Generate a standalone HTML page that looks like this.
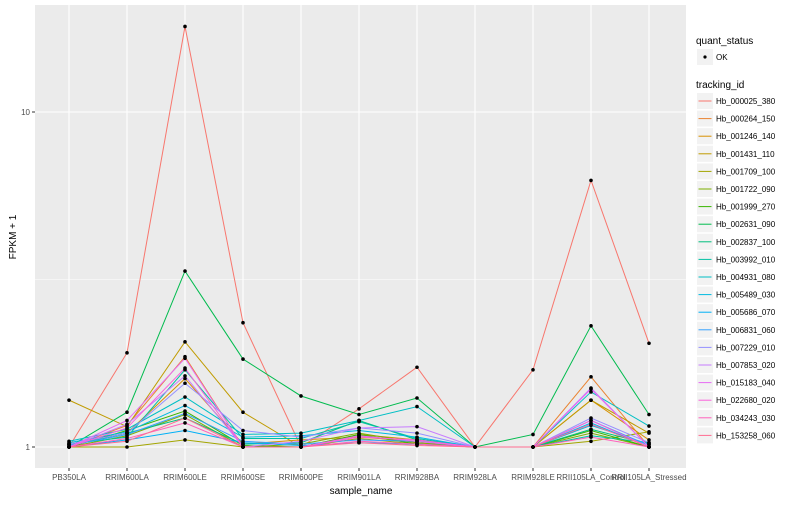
<!DOCTYPE html>
<html><head><meta charset="utf-8"><style>
body{margin:0;background:#fff;font-family:"Liberation Sans",sans-serif}
svg text{font-family:"Liberation Sans",sans-serif}
</style></head><body>
<svg id="c" width="800" height="500"></svg>
<script>
const categories=["PB350LA","RRIM600LA","RRIM600LE","RRIM600SE","RRIM600PE","RRIM901LA","RRIM928BA","RRIM928LA","RRIM928LE","RRII105LA_Control","RRII105LA_Stressed"];
const seriesNames=["Hb_000025_380","Hb_000264_150","Hb_001246_140","Hb_001431_110","Hb_001709_100","Hb_001722_090","Hb_001999_270","Hb_002631_090","Hb_002837_100","Hb_003992_010","Hb_004931_080","Hb_005489_030","Hb_005686_070","Hb_006831_060","Hb_007229_010","Hb_007853_020","Hb_015183_040","Hb_022680_020","Hb_034243_030","Hb_153258_060"];
const seriesColors=["#F8766D","#EA8331","#D89000","#C09B00","#A3A500","#7CAE00","#39B600","#00BB4E","#00BF7D","#00C1A3","#00BFC4","#00BAE0","#00B0F6","#35A2FF","#9590FF","#C77CFF","#E76BF3","#FA62DB","#FF62BC","#FF6C91"];
const s0=[1.0,1.91,18.0,2.35,1.0,1.3,1.73,1.0,1.70,6.25,2.04];
const s1=[1.0,1.16,1.86,1.0,1.0,1.08,1.03,1.0,1.0,1.62,1.0];
const s2=[1.02,1.10,1.60,1.02,1.05,1.07,1.04,1.0,1.0,1.38,1.05];
const s3=[1.38,1.15,2.06,1.27,1.0,1.09,1.05,1.0,1.0,1.38,1.10];
const s4=[1.0,1.0,1.05,1.0,1.0,1.06,1.02,1.0,1.0,1.04,1.11];
const s5=[1.0,1.08,1.25,1.0,1.02,1.10,1.03,1.0,1.0,1.10,1.0];
const s6=[1.0,1.12,1.28,1.01,1.0,1.09,1.02,1.0,1.0,1.12,1.0];
const s7=[1.0,1.27,3.35,1.83,1.42,1.25,1.40,1.0,1.09,2.30,1.25];
const s8=[1.01,1.10,1.22,1.02,1.03,1.20,1.05,1.0,1.0,1.13,1.02];
const s9=[1.02,1.07,1.70,1.06,1.06,1.19,1.06,1.0,1.0,1.08,1.03];
const s10=[1.04,1.13,1.41,1.09,1.10,1.20,1.32,1.0,1.0,1.46,1.155];
const s11=[1.03,1.11,1.33,1.07,1.08,1.12,1.07,1.0,1.0,1.16,1.02];
const s12=[1.0,1.05,1.12,1.03,1.01,1.03,1.02,1.0,1.0,1.18,1.0];
const s13=[1.01,1.09,1.26,1.04,1.02,1.05,1.04,1.0,1.0,1.20,1.01];
const s14=[1.02,1.10,1.55,1.12,1.07,1.14,1.10,1.0,1.0,1.22,1.03];
const s15=[1.0,1.17,1.63,1.0,1.04,1.14,1.15,1.0,1.0,1.50,1.0];
const s16=[1.0,1.20,1.84,1.0,1.0,1.08,1.04,1.0,1.0,1.49,1.0];
const s17=[1.0,1.14,1.72,1.0,1.0,1.07,1.05,1.0,1.0,1.20,1.0];
const s18=[1.0,1.06,1.18,1.0,1.0,1.04,1.02,1.0,1.0,1.07,1.0];
const s19=[1.0,1.04,1.22,1.0,1.0,1.03,1.01,1.0,1.0,1.17,1.0];
const seriesValues=[s0,s1,s2,s3,s4,s5,s6,s7,s8,s9,s10,s11,s12,s13,s14,s15,s16,s17,s18,s19];
const yTickValues=[1,10];
const yTickLabels=["1","10"];

const NS="http://www.w3.org/2000/svg";
const svg=document.getElementById('c');
const P={l:35,r:686,t:5,b:468};
function xS(i){return 69+i*58;}
function yS(v){return 447-335*Math.log10(v);}
function mk(tag,attrs,parent){const e=document.createElementNS(NS,tag);for(const k in attrs)e.setAttribute(k,attrs[k]);(parent||svg).appendChild(e);return e;}

const panel=mk('rect',{x:P.l,y:P.t,width:P.r-P.l,height:P.b-P.t,fill:'#EBEBEB'});


const mg=mk('line',{x1:P.l,x2:P.r,y1:(yS(1)+yS(10))/2,y2:(yS(1)+yS(10))/2,stroke:'#fff','stroke-width':0.6});


yTickValues.forEach((v,i)=>{
  const g=mk('line',{x1:P.l,x2:P.r,y1:yS(v),y2:yS(v),stroke:'#fff','stroke-width':1.1});
  
  
  const tk=mk('line',{x1:P.l-3,x2:P.l,y1:yS(v),y2:yS(v),stroke:'#333','stroke-width':1});
  
  
  const t=mk('text',{x:P.l-5,y:yS(v)+3,'text-anchor':'end','font-size':8,fill:'#4D4D4D'});
  t.textContent=yTickLabels[i];
  
  
});
categories.forEach((c,i)=>{
  const g=mk('line',{x1:xS(i),x2:xS(i),y1:P.t,y2:P.b,stroke:'#fff','stroke-width':1.1});
  
  
  const tk=mk('line',{x1:xS(i),x2:xS(i),y1:P.b,y2:P.b+3,stroke:'#333','stroke-width':1});
  
  
  const t=mk('text',{x:xS(i),y:480,'text-anchor':'middle','font-size':8,fill:'#4D4D4D'});
  t.textContent=c;
  
  
});
seriesValues.forEach((vals,si)=>{
  const pts=vals.map((v,i)=>xS(i)+','+yS(v)).join(' ');
  const pl=mk('polyline',{points:pts,fill:'none',stroke:seriesColors[si],'stroke-width':1});
  
  
});
seriesValues.forEach((vals,si)=>{
  vals.forEach((v,i)=>{
    const p=mk('circle',{cx:xS(i),cy:yS(v),r:1.8,fill:'#000'});
    
    
  });
});
const yt=mk('text',{x:16,y:237,'text-anchor':'middle','font-size':10,fill:'#000',transform:'rotate(-90 16 237)'});
yt.textContent='FPKM + 1';


const xt=mk('text',{x:361,y:494,'text-anchor':'middle','font-size':10,fill:'#000'});
xt.textContent='sample_name';


const lt1=mk('text',{x:696,y:44,'font-size':10,fill:'#000'});
lt1.textContent='quant_status';


const kb=mk('rect',{x:697,y:49,width:16,height:16,fill:'#F2F2F2'});


mk('circle',{cx:705,cy:57,r:1.6,fill:'#000'});
const ok=mk('text',{x:716,y:60,'font-size':8,fill:'#000'});
ok.textContent='OK';


const lt2=mk('text',{x:696,y:88,'font-size':10,fill:'#000'});
lt2.textContent='tracking_id';


seriesNames.forEach((n,i)=>{
  const y=101+i*17.6;
  const b=mk('rect',{x:697,y:y-8,width:16,height:16,fill:'#F2F2F2'});
  
  
  const l=mk('line',{x1:698.5,x2:711.5,y1:y,y2:y,stroke:seriesColors[i],'stroke-width':1});
  
  
  const t=mk('text',{x:716,y:y+3,'font-size':8,fill:'#000'});
  t.textContent=n;
  
  
});
</script>
</body></html>
